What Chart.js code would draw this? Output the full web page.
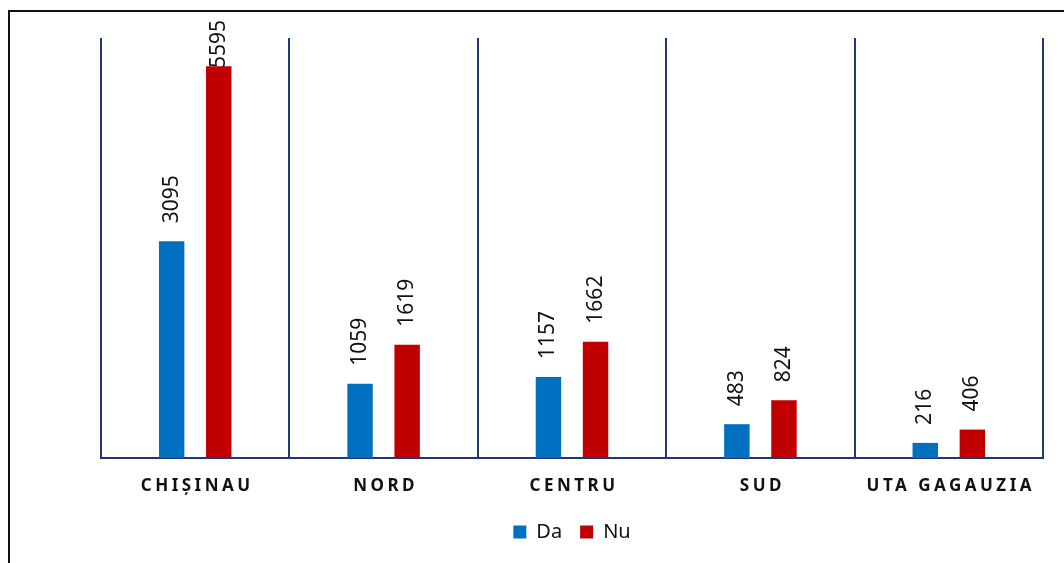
<!DOCTYPE html>
<html>
<head>
<meta charset="utf-8">
<script src="https://cdn.jsdelivr.net/npm/chart.js@4/dist/chart.umd.min.js"></script>
<style>
    html, body { margin: 0; padding: 0; background: #fff; }
    #wrap { width: 1064px; height: 563px; }
</style>
</head>
<body>
<div id="wrap"><canvas id="regionChart" width="1064" height="563"></canvas></div>
<script>
const regions = ['CHIȘINAU', 'NORD', 'CENTRU', 'SUD', 'UTA GAGAUZIA'];
const daValues = [3095, 1059, 1157, 483, 216];
const nuValues = [5595, 1619, 1662, 824, 406];
const yMax = 6000;

const BLUE = '#0070C0';
const RED = '#C00000';
const NAVY = '#1F3870';

// cadrul negru din stanga si de sus
const framePlugin = {
    id: 'frame',
    beforeDraw(chart) {
        const ctx = chart.ctx;
        ctx.save();
        ctx.strokeStyle = '#111';
        ctx.lineWidth = 2;
        ctx.beginPath();
        ctx.moveTo(9, chart.height);
        ctx.lineTo(9, 11);
        ctx.lineTo(chart.width, 11);
        ctx.stroke();
        ctx.restore();
    }
};

// etichete de valori, rotite vertical deasupra barelor
const valueLabels = {
    id: 'valueLabels',
    afterDatasetsDraw(chart) {
        const ctx = chart.ctx;
        ctx.save();
        ctx.font = '21px "Noto Sans"';
        ctx.fillStyle = '#111';
        ctx.textAlign = 'left';
        ctx.textBaseline = 'middle';
        chart.data.datasets.forEach((ds, i) => {
            const meta = chart.getDatasetMeta(i);
            meta.data.forEach((bar, j) => {
                const text = String(ds.data[j]);
                const w = ctx.measureText(text).width;
                const yStart = Math.max(bar.y - 18, 20 + w);
                ctx.save();
                ctx.translate(bar.x, yStart);
                ctx.rotate(-Math.PI / 2);
                ctx.fillText(text, 0, 0);
                ctx.restore();
            });
        });
        ctx.restore();
    }
};

// denumirile regiunilor, cu spatiere intre litere
const categoryLabels = {
    id: 'categoryLabels',
    afterDraw(chart) {
        const ctx = chart.ctx;
        const xScale = chart.scales.x;
        ctx.save();
        ctx.font = 'bold 17px "Noto Sans"';
        ctx.letterSpacing = '3.5px';
        ctx.fillStyle = '#111';
        ctx.textAlign = 'center';
        ctx.textBaseline = 'middle';
        regions.forEach((name, i) => {
            const x = xScale.getPixelForValue(i) + 2;
            ctx.fillText(name, x, chart.chartArea.bottom + 28);
        });
        ctx.restore();
    }
};

const ctx = document.getElementById('regionChart').getContext('2d');
new Chart(ctx, {
    type: 'bar',
    data: {
        labels: regions,
        datasets: [
            {
                label: 'Da',
                data: daValues,
                backgroundColor: BLUE,
                categoryPercentage: 0.5,
                barPercentage: 0.54
            },
            {
                label: 'Nu',
                data: nuValues,
                backgroundColor: RED,
                categoryPercentage: 0.5,
                barPercentage: 0.54
            }
        ]
    },
    options: {
        responsive: false,
        animation: false,
        layout: {
            padding: { left: 101, right: 21, top: 38, bottom: 11 }
        },
        plugins: {
            legend: {
                display: true,
                position: 'bottom',
                labels: {
                    boxWidth: 13,
                    boxHeight: 13,
                    padding: 18,
                    color: '#111',
                    font: { family: 'Noto Sans', size: 20 }
                }
            },
            tooltip: { enabled: false }
        },
        scales: {
            x: {
                offset: true,
                grid: {
                    display: true,
                    offset: true,
                    color: NAVY,
                    lineWidth: 2,
                    drawTicks: false
                },
                border: { display: true, color: NAVY, width: 2 },
                ticks: { display: false },
                afterFit(scale) {
                    scale.height = 46;
                }
            },
            y: {
                display: false,
                min: 0,
                max: yMax
            }
        }
    },
    plugins: [framePlugin, valueLabels, categoryLabels]
});
</script>
</body>
</html>
